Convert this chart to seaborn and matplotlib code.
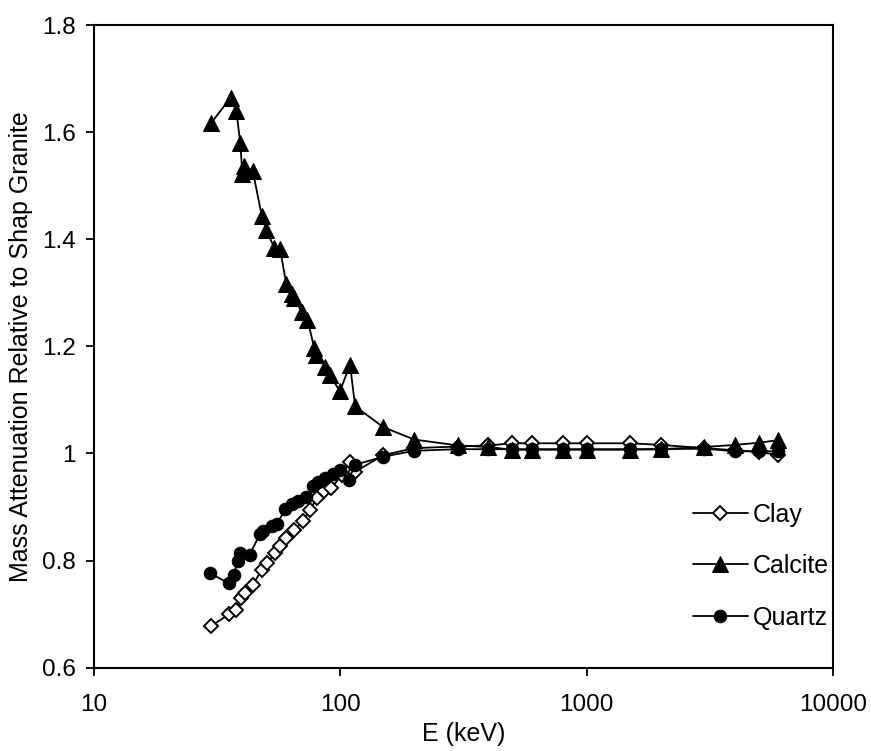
import numpy as np
import pandas as pd
import seaborn as sns
import matplotlib
matplotlib.use("Agg")
import matplotlib.pyplot as plt
from matplotlib.ticker import FixedLocator, FuncFormatter, NullLocator

# energies (keV) and mass attenuation relative to Shap granite
clay_E = [30, 35.6, 37.9, 39.7, 41.2, 44.3, 48.2, 50.5, 54.6, 57.1, 60.4, 65.1, 70.5,
          75.6, 80.6, 85.8, 92.2, 101.7, 110, 115.3,
          150, 200, 300, 400, 500, 600, 800, 1000, 1500, 2000, 3000, 4000, 5000, 6000]
clay_val = [0.678, 0.700, 0.708, 0.730, 0.740, 0.755, 0.783, 0.795, 0.814, 0.828, 0.842,
            0.857, 0.873, 0.895, 0.917, 0.929, 0.935, 0.960, 0.985, 0.966,
            0.997, 1.010, 1.013, 1.015, 1.019, 1.019, 1.019, 1.019, 1.019, 1.016,
            1.010, 1.006, 1.003, 0.997]

calcite_E = [30, 36, 38, 39.4, 40.2, 40.9, 44.3, 48.2, 50.2, 54.1, 57.2, 60.5, 63.8, 64.8,
             70, 73.8, 78.6, 80, 87.1, 90.7, 100, 109.8, 115.2,
             150, 200, 300, 400, 500, 600, 800, 1000, 1500, 2000, 3000, 4000, 5000, 6000]
calcite_val = [1.617, 1.664, 1.639, 1.579, 1.521, 1.536, 1.527, 1.443, 1.418, 1.384, 1.381,
               1.317, 1.297, 1.290, 1.265, 1.250, 1.197, 1.184, 1.162, 1.147, 1.116,
               1.166, 1.088,
               1.049, 1.026, 1.015, 1.012, 1.007, 1.007, 1.007, 1.007, 1.007, 1.008,
               1.012, 1.016, 1.020, 1.025]

quartz_E = [29.8, 35.3, 37.2, 38.4, 39.4, 43.0, 47.3, 48.9, 52.9, 55.4, 60, 63.7, 67.7,
            72.7, 78.0, 81.8, 87.1, 93.6, 100, 108.3, 115.3,
            150, 200, 300, 400, 500, 600, 800, 1000, 1500, 2000, 3000, 4000, 5000, 6000]
quartz_val = [0.776, 0.758, 0.774, 0.799, 0.814, 0.811, 0.849, 0.855, 0.864, 0.868, 0.896,
              0.905, 0.912, 0.918, 0.940, 0.946, 0.955, 0.961, 0.970, 0.951, 0.979,
              0.994, 1.005, 1.008, 1.008, 1.008, 1.008, 1.008, 1.008, 1.008, 1.008,
              1.009, 1.004, 1.004, 1.004]

sns.set_style("white")
plt.rcParams['font.family'] = ['Liberation Sans', 'DejaVu Sans']
plt.rcParams['text.color'] = 'black'
plt.rcParams['axes.labelcolor'] = 'black'

fig = plt.figure(figsize=(8.71, 7.51), dpi=100)
ax = fig.add_axes([93.5 / 871, 1 - 667.7 / 751, (833 - 93.5) / 871, (667.7 - 25) / 751])

clay = pd.DataFrame({'E': clay_E, 'v': clay_val})
calcite = pd.DataFrame({'E': calcite_E, 'v': calcite_val})
quartz = pd.DataFrame({'E': quartz_E, 'v': quartz_val})

sns.lineplot(data=clay, x='E', y='v', ax=ax, color='black', lw=1.3, estimator=None,
             marker='D', markersize=7, markerfacecolor='white', markeredgecolor='black',
             markeredgewidth=1.4, label='Clay')
sns.lineplot(data=calcite, x='E', y='v', ax=ax, color='black', lw=1.3, estimator=None,
             marker='^', markersize=11, markerfacecolor='black', markeredgecolor='black',
             label='Calcite')
sns.lineplot(data=quartz, x='E', y='v', ax=ax, color='black', lw=1.3, estimator=None,
             marker='o', markersize=9, markerfacecolor='black', markeredgecolor='black',
             label='Quartz')

ax.set_xscale('log')
ax.set_xlim(10, 10000)
ax.set_ylim(0.6, 1.8)
ax.xaxis.set_major_locator(FixedLocator([10, 100, 1000, 10000]))
ax.xaxis.set_minor_locator(NullLocator())
ax.xaxis.set_major_formatter(FuncFormatter(lambda v, p: '%d' % v))
ax.set_yticks([0.6, 0.8, 1.0, 1.2, 1.4, 1.6, 1.8])
ax.yaxis.set_major_formatter(FuncFormatter(lambda v, p: '%g' % round(v, 1)))

for s in ax.spines.values():
    s.set_linewidth(1.5)
    s.set_color('black')
ax.tick_params(axis='both', direction='out', length=6, width=1.3, labelsize=17.5,
               colors='black', bottom=True, left=True)
ax.tick_params(axis='x', pad=13)
ax.tick_params(axis='y', pad=7)

ax.set_xlabel('E (keV)', fontsize=18, labelpad=4)
ax.set_ylabel('Mass Attenuation Relative to Shap Granite', fontsize=18, labelpad=6)

leg = ax.legend(loc='center left', bbox_to_anchor=(0.78, 0.158), frameon=False,
                fontsize=18, handlelength=2.2, handletextpad=0.2, labelspacing=1.1)

fig.savefig('out.png', dpi=100)
